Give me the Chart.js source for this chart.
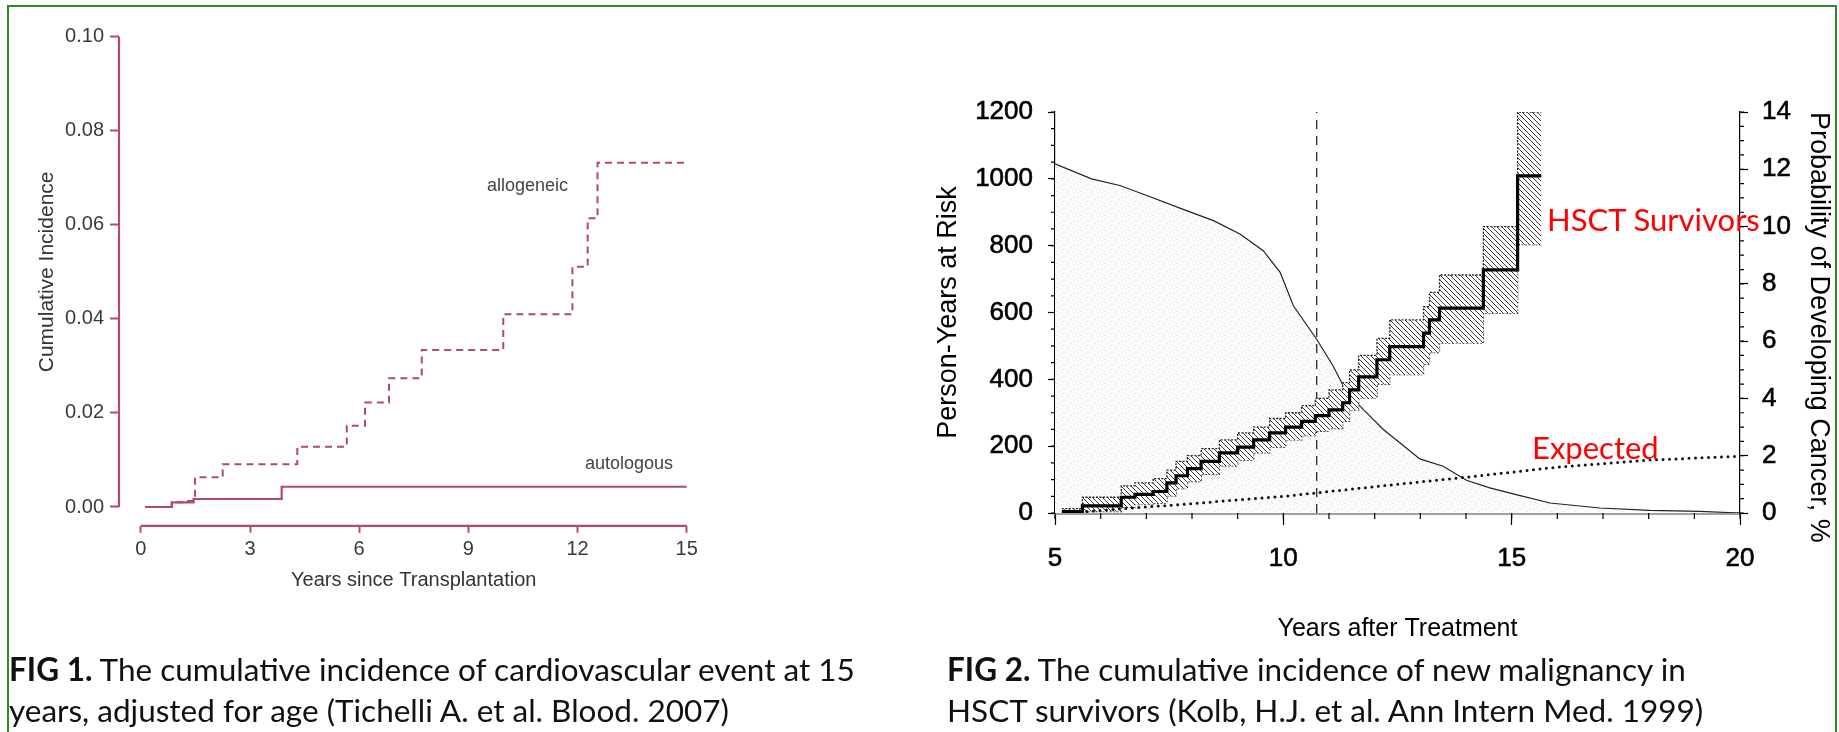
<!DOCTYPE html>
<html>
<head>
<meta charset="utf-8">
<script src="https://cdn.jsdelivr.net/npm/chart.js@4.4.1/dist/chart.umd.min.js"></script>
<style>
  html, body { margin: 0; padding: 0; background: #fff; }
  body { width: 1839px; height: 732px; position: relative; overflow: hidden; }
  .frame { position: absolute; left: 7px; top: 5px; width: 1830px; height: 760px; border: 2px solid #2b8c2b; box-sizing: border-box; }
  canvas { position: absolute; }
  #fig1 { left: 0; top: 0; }
  #fig2 { left: 780px; top: 0; }
  .note { position: absolute; white-space: nowrap; line-height: 1; font-family: 'Liberation Sans', Arial, sans-serif; font-size: 18px; color: #444; }
  .red { position: absolute; white-space: nowrap; line-height: 1; font-family: Lato, 'Open Sans', sans-serif; font-size: 31px; color: #ff0000; }
  .cap { position: absolute; white-space: nowrap; font-family: Lato, 'Open Sans', sans-serif; font-size: 31.5px; line-height: 41px; color: #111; }
</style>
</head>
<body>
<div class="frame"></div>
<canvas id="fig1" width="760" height="620"></canvas>
<canvas id="fig2" width="1059" height="650"></canvas>

<div class="note" style="left:487px; top:176px;">allogeneic</div>
<div class="note" style="left:585px; top:454px;">autologous</div>
<div class="red" style="left:1547px; top:204px;">HSCT Survivors</div>
<div class="red" style="left:1532px; top:432px;">Expected</div>

<div class="cap" style="left:9px; top:649px;"><b>FIG 1.</b> The cumulative incidence of cardiovascular event at 15<br>years, adjusted for age (Tichelli A. et al. Blood. 2007)</div>
<div class="cap" style="left:947px; top:649px;"><b>FIG 2.</b> The cumulative incidence of new malignancy in<br>HSCT survivors (Kolb, H.J. et al. Ann Intern Med. 1999)</div>

<script>
// ---- Fig 1: cardiovascular events after transplantation ----
const fig1XTicks = [0, 3, 6, 9, 12, 15];
const fig1YTicks = [0, 0.02, 0.04, 0.06, 0.08, 0.10];

const alloTime = [0.12, 0.85, 1.15, 1.49, 2.25, 4.30, 5.66, 6.16, 6.82, 7.72, 9.96, 11.86, 12.28, 12.55, 14.95];
const alloInc  = [0, 0.0010, 0.0013, 0.0063, 0.0091, 0.0128, 0.0173, 0.0222, 0.0274, 0.0334, 0.0410, 0.0511, 0.0614, 0.0732, 0.0732];
const autoTime = [0.12, 0.85, 1.45, 3.87, 15.0];
const autoInc  = [0, 0.0010, 0.0017, 0.0043, 0.0043];

// ---- Fig 2: new malignancy in HSCT survivors ----
const riskYears = [5.0, 5.8, 6.42, 7.01, 7.88, 8.47, 9.05, 9.56, 9.93, 10.22, 10.73, 11.09, 11.39, 11.75, 12.19, 12.55, 12.99, 13.5, 14.01, 14.52, 15.1, 15.84, 16.93, 18.03, 19.12, 20.0];
const riskPY    = [1045, 1000, 980, 950, 905, 875, 835, 785, 720, 620, 520, 440, 360, 310, 250, 210, 162, 140, 98, 75, 55, 30, 15, 8, 5, 0];

const hsctYears = [5.15, 5.60, 6.45, 6.75, 7.15, 7.45, 7.65, 7.90, 8.20, 8.60, 9.00, 9.35, 9.70, 10.05, 10.40, 10.70, 11.00, 11.30, 11.45, 11.65, 12.05, 12.33, 13.07, 13.20, 13.42, 14.38, 15.13, 15.65];
const hsctPct   = [0.05, 0.25, 0.55, 0.65, 0.75, 1.05, 1.30, 1.55, 1.80, 2.10, 2.30, 2.55, 2.80, 3.00, 3.20, 3.40, 3.60, 3.85, 4.30, 4.75, 5.35, 5.81, 6.28, 6.74, 7.15, 8.49, 11.77, 11.77];
const hsctUpper = [0.15, 0.55, 0.95, 1.05, 1.20, 1.50, 1.80, 2.00, 2.25, 2.55, 2.80, 3.00, 3.30, 3.50, 3.75, 4.00, 4.30, 4.55, 5.00, 5.50, 6.10, 6.74, 7.20, 7.70, 8.31, 10.00, 14.00, 14.00];
const hsctLower = [0.00, 0.05, 0.20, 0.30, 0.35, 0.60, 0.85, 1.10, 1.35, 1.65, 1.85, 2.10, 2.30, 2.55, 2.70, 2.85, 2.95, 3.20, 3.60, 4.00, 4.50, 4.83, 5.20, 5.60, 5.93, 6.98, 9.37, 9.37];

const expYears = [5.7, 8, 10, 12, 14, 16, 18, 20];
const expPct   = [0.05, 0.33, 0.58, 0.92, 1.25, 1.60, 1.85, 1.98];

const cutoffYear = 10.73;   // dashed marker line

Chart.defaults.font.family = "'Liberation Sans', Arial, sans-serif";

const pts = (xs, ys) => xs.map((x, i) => ({ x, y: ys[i] }));

// ---------- Fig 1 ----------
const maroon = '#b24a6e';

// R-style detached axes: line runs from first to last tick only
const rAxes = {
  id: 'rAxes',
  afterDraw(chart) {
    const { ctx } = chart;
    const x = chart.scales.x, y = chart.scales.y;
    ctx.save();
    ctx.strokeStyle = maroon;
    ctx.lineWidth = 2.2;
    ctx.beginPath();
    ctx.moveTo(x.getPixelForValue(x.ticks[0].value), x.top);
    ctx.lineTo(x.getPixelForValue(x.ticks[x.ticks.length - 1].value), x.top);
    ctx.moveTo(y.right, y.getPixelForValue(y.ticks[0].value));
    ctx.lineTo(y.right, y.getPixelForValue(y.ticks[y.ticks.length - 1].value));
    ctx.stroke();
    ctx.restore();
  }
};

new Chart(document.getElementById('fig1'), {
  type: 'line',
  data: {
    datasets: [
      { label: 'allogeneic', data: pts(alloTime, alloInc), stepped: true, borderColor: maroon, borderWidth: 2, borderDash: [7, 5], pointRadius: 0 },
      { label: 'autologous', data: pts(autoTime, autoInc), stepped: true, borderColor: maroon, borderWidth: 2.2, pointRadius: 0 }
    ]
  },
  options: {
    responsive: false,
    animation: false,
    layout: { padding: { top: 18, right: 51.5, left: 0, bottom: 0 } },
    plugins: { legend: { display: false }, tooltip: { enabled: false } },
    scales: {
      x: {
        type: 'linear', min: -0.6, max: 15.6,
        afterBuildTicks: s => { s.ticks = fig1XTicks.map(v => ({ value: v })); },
        afterFit: s => { s.height = 94.2; },
        border: { display: false },
        grid: { drawOnChartArea: false, tickLength: 7, tickColor: maroon, tickWidth: 2 },
        ticks: { autoSkip: false, maxRotation: 0, font: { size: 20 }, color: '#3a3a3a', padding: 5 },
        title: { display: true, text: 'Years since Transplantation', font: { size: 20 }, color: '#333', padding: { top: 0, bottom: 28 } }
      },
      y: {
        min: -0.004, max: 0.104,
        afterBuildTicks: s => { s.ticks = fig1YTicks.map(v => ({ value: v })); },
        afterFit: s => { s.width = 119; },
        border: { display: false },
        grid: { drawOnChartArea: false, tickLength: 9, tickColor: maroon, tickWidth: 2 },
        ticks: { autoSkip: false, font: { size: 20 }, color: '#3a3a3a', padding: 6, callback: v => v.toFixed(2) },
        title: { display: true, text: 'Cumulative Incidence', font: { size: 21 }, color: '#333', padding: { top: 35, bottom: 0 } }
      }
    }
  },
  plugins: [rAxes]
});

// ---------- Fig 2 ----------
function stipple() {
  const c = document.createElement('canvas');
  c.width = c.height = 12;
  const g = c.getContext('2d');
  g.fillStyle = '#fcfcfc';
  g.fillRect(0, 0, 12, 12);
  g.fillStyle = '#dedede';
  [[1, 2], [5, 0], [9, 4], [3, 7], [7, 9], [11, 10], [0, 11], [6, 5], [10, 1]].forEach(([x, y]) => g.fillRect(x, y, 1, 1));
  return g.createPattern(c, 'repeat');
}

function hatch() {
  const c = document.createElement('canvas');
  c.width = c.height = 5;
  const g = c.getContext('2d');
  g.fillStyle = '#fff';
  g.fillRect(0, 0, 5, 5);
  g.strokeStyle = '#3a3a3a';
  g.lineWidth = 1;
  g.beginPath();
  g.moveTo(0, 0); g.lineTo(5, 5);
  g.moveTo(-1, 4); g.lineTo(1, 6);
  g.moveTo(4, -1); g.lineTo(6, 1);
  g.stroke();
  return g.createPattern(c, 'repeat');
}

// minor tick marks, drawn from the scales' own pixel mapping
const minorTicks = {
  id: 'minorTicks',
  afterDraw(chart) {
    const { ctx, scales } = chart;
    const specs = [
      { s: scales.x, step: 1, len: 6 },
      { s: scales.y, step: 50, len: 4 },
      { s: scales.y2, step: 0.5, len: 4 }
    ];
    ctx.save();
    ctx.strokeStyle = '#000';
    ctx.lineWidth = 1.2;
    ctx.beginPath();
    specs.forEach(({ s, step, len }) => {
      for (let v = s.min; v <= s.max + 1e-9; v += step) {
        const p = s.getPixelForValue(v);
        if (s.axis === 'x') { ctx.moveTo(p, s.top); ctx.lineTo(p, s.top + len); }
        else if (s.position === 'left') { ctx.moveTo(s.right, p); ctx.lineTo(s.right - len, p); }
        else { ctx.moveTo(s.left, p); ctx.lineTo(s.left + len, p); }
      }
    });
    ctx.stroke();
    ctx.restore();
  }
};

const bandHatch = hatch();
const tickFont = { size: 26 };
const plain = v => String(v);

new Chart(document.getElementById('fig2'), {
  type: 'line',
  data: {
    datasets: [
      { label: 'HSCT Survivors', data: pts(hsctYears, hsctPct), yAxisID: 'y2', stepped: true, borderColor: '#000', borderWidth: 3.2, pointRadius: 0, order: 0 },
      { label: 'Expected', data: pts(expYears, expPct), yAxisID: 'y2', borderColor: '#111', borderWidth: 3, borderDash: [0, 6.5], borderCapStyle: 'round', pointRadius: 0, order: 1 },
      { label: 'upper', data: pts(hsctYears, hsctUpper), yAxisID: 'y2', stepped: true, borderColor: '#222', borderWidth: 1.3, borderDash: [2, 1.5], pointRadius: 0, fill: '+1', backgroundColor: bandHatch, order: 2 },
      { label: 'lower', data: pts(hsctYears, hsctLower), yAxisID: 'y2', stepped: true, borderColor: '#222', borderWidth: 1.3, borderDash: [2, 1.5], pointRadius: 0, order: 2 },
      { label: 'cutoff', data: [{ x: cutoffYear, y: 0 }, { x: cutoffYear, y: 1200 }], yAxisID: 'y', borderColor: '#333', borderWidth: 1.4, borderDash: [9, 7], pointRadius: 0, order: 3 },
      { label: 'Person-Years at Risk', data: pts(riskYears, riskPY), yAxisID: 'y', borderColor: '#222', borderWidth: 1.2, pointRadius: 0, fill: 'origin', backgroundColor: stipple(), order: 4 }
    ]
  },
  options: {
    responsive: false,
    animation: false,
    layout: { padding: { top: 112, right: 0, left: 0, bottom: 0 } },
    plugins: { legend: { display: false }, tooltip: { enabled: false } },
    scales: {
      x: {
        type: 'linear', min: 5, max: 20,
        afterFit: s => { s.height = 137; },
        border: { display: true, color: '#a0a0a0', width: 3 },
        grid: { drawOnChartArea: false, tickLength: 12, tickColor: '#000', tickWidth: 1.2 },
        ticks: { stepSize: 5, autoSkip: false, maxRotation: 0, font: tickFont, color: '#000', padding: 18, textStrokeColor: '#000', textStrokeWidth: 0.6, callback: plain },
        title: { display: true, text: 'Years after Treatment', font: { size: 25 }, color: '#000', padding: { top: 0, bottom: 6 } }
      },
      y: {
        position: 'left', min: 0, max: 1200,
        afterFit: s => { s.width = 275; },
        border: { display: true, color: '#000', width: 1.2, dash: [3, 2] },
        grid: { drawOnChartArea: false, tickLength: 7, tickColor: '#000', tickWidth: 1.2 },
        ticks: { stepSize: 200, autoSkip: false, font: tickFont, color: '#000', padding: 15, textStrokeColor: '#000', textStrokeWidth: 0.6, callback: plain },
        title: { display: true, text: 'Person-Years at Risk', font: { size: 27 }, color: '#000', padding: { top: 152, bottom: 0 } }
      },
      y2: {
        position: 'right', min: 0, max: 14,
        afterFit: s => { s.width = 99; },
        border: { display: true, color: '#000', width: 1.2, dash: [3, 2] },
        grid: { drawOnChartArea: false, tickLength: 8, tickColor: '#000', tickWidth: 1.2 },
        ticks: { stepSize: 2, autoSkip: false, font: tickFont, color: '#000', padding: 14, textStrokeColor: '#000', textStrokeWidth: 0.6, callback: plain },
        title: { display: true, text: 'Probability of Developing Cancer, %', align: 'end', font: { size: 27 }, color: '#000', padding: { top: 4, bottom: 0 } }
      }
    }
  },
  plugins: [minorTicks]
});
</script>
</body>
</html>
